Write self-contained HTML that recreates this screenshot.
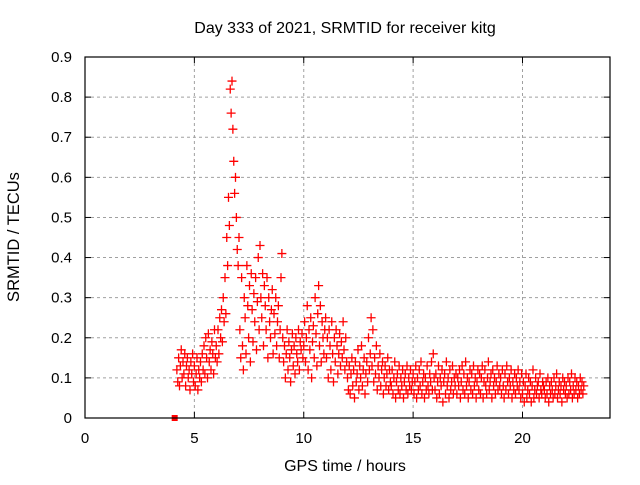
<!DOCTYPE html>
<html><head><meta charset="utf-8"><style>
body{margin:0;background:#fff;}
svg text{font-family:"Liberation Sans",sans-serif;font-size:15px;fill:#000;}
</style></head><body>
<svg id="chart" width="640" height="480" xmlns="http://www.w3.org/2000/svg">
<text x="345" y="33" text-anchor="middle" style="font-size:16px">Day 333 of 2021, SRMTID for receiver kitg</text>
<text x="345" y="471" text-anchor="middle" style="font-size:16px">GPS time / hours</text>
<text transform="translate(19,237) rotate(-90)" text-anchor="middle" style="font-size:16.5px">SRMTID / TECUs</text>
<g id="grid"></g>
<g id="ticks"></g>
<g id="marks"></g>
<rect x="85" y="57" width="525" height="361" fill="none" stroke="#000" stroke-width="1.2"/>
</svg>
<script>
const xTicks=[0,5,10,15,20];
const yTicks=[0,0.1,0.2,0.3,0.4,0.5,0.6,0.7,0.8,0.9];
const yTickLabels=["0","0.1","0.2","0.3","0.4","0.5","0.6","0.7","0.8","0.9"];
const startTime=4.2;
const timeStep=0.04;
const srmtidHundredths=[
12,9,15,8,13,17,10,14,11,16,8,13,15,10,12,7,14,11,16,9,
13,8,11,15,7,12,10,14,9,16,12,18,11,20,15,10,21,14,17,12,19,16,11,22,15,
18,14,22,16,25,20,27,19,30,24,35,26,45,38,55,48,82,76,84,72,64,56,60,50,42,
38,45,22,15,35,18,12,30,25,16,38,28,20,33,14,36,27,19,31,24,35,17,29,40,22,
43,30,25,36,18,33,28,22,35,15,30,24,20,27,32,16,26,21,30,18,24,28,15,22,35,
41,20,14,18,10,16,22,12,19,15,9,17,21,13,18,11,20,16,14,22,12,19,17,21,15,
18,24,14,20,28,12,22,17,25,10,19,23,15,30,21,13,26,33,18,28,14,24,20,16,22,
25,15,20,10,22,18,12,24,16,9,20,14,22,18,11,16,21,13,19,15,24,17,12,20,14,
10,7,13,6,11,15,8,12,5,14,9,11,17,7,13,10,18,8,12,15,6,11,14,9,20,
12,16,25,13,22,9,15,11,18,7,13,10,16,8,12,14,6,10,13,8,11,15,7,12,9,
8,12,6,10,14,5,9,11,7,13,6,10,8,12,5,9,11,7,13,6,10,8,12,7,9,
11,6,9,13,5,10,7,12,8,14,6,9,11,5,10,7,13,8,6,11,9,14,7,16,10,
7,11,5,9,13,6,10,8,12,4,9,11,6,14,8,10,5,12,7,9,13,6,10,8,11,
6,10,8,12,5,9,13,7,11,6,14,8,10,5,9,12,7,11,6,13,8,10,5,9,12,
7,11,6,10,13,5,9,12,8,6,10,14,7,9,11,5,12,8,10,6,9,13,7,11,8,
10,6,12,8,5,11,7,13,9,6,10,8,12,5,9,7,11,6,10,8,12,7,9,5,11,
6,9,4,8,11,5,7,10,6,9,4,8,12,5,7,10,6,8,9,5,11,7,6,9,8,
7,5,9,6,10,4,8,6,9,7,5,10,6,8,11,5,7,9,6,8,4,10,7,9,6,
8,5,10,6,9,7,11,5,8,6,10,7,9,5,8,6,10,7,9,6,8];
const zeroMarkTime=[4.1];
const X0=85,X1=610,Y0=418,Y1=57,XMAX=24,YMAX=0.9;
function xs(v){return X0+(X1-X0)*v/XMAX;}
function ys(v){return Y0-(Y0-Y1)*v/YMAX;}
const NS="http://www.w3.org/2000/svg";
function mk(t,a,p){const e=document.createElementNS(NS,t);for(const k in a)e.setAttribute(k,a[k]);p.appendChild(e);return e;}
const grid=document.getElementById('grid'),ticks=document.getElementById('ticks'),marks=document.getElementById('marks');
xTicks.forEach((v,i)=>{const x=xs(v);
 if(v>0){const g=mk('line',{x1:x,x2:x,y1:Y1,y2:Y0,stroke:'#a0a0a0','stroke-dasharray':'3,3'},grid);
 
 }
 mk('line',{x1:x,x2:x,y1:Y0,y2:Y0-6,stroke:'#000'},ticks);mk('line',{x1:x,x2:x,y1:Y1,y2:Y1+6,stroke:'#000'},ticks);
 const t=mk('text',{x:x,y:443,'text-anchor':'middle'},ticks);t.textContent=v;
 
 });
yTicks.forEach((v,i)=>{const y=ys(v);
 if(v>0&&v<0.9){const g=mk('line',{x1:X0,x2:X1,y1:y,y2:y,stroke:'#a0a0a0','stroke-dasharray':'3,3'},grid);
 
 }
 mk('line',{x1:X0,x2:X0+6,y1:y,y2:y,stroke:'#000'},ticks);mk('line',{x1:X1,x2:X1-6,y1:y,y2:y,stroke:'#000'},ticks);
 const t=mk('text',{x:72,y:y+5,'text-anchor':'end'},ticks);t.textContent=yTickLabels[i];
 
 });
srmtidHundredths.forEach((h,i)=>{const x=xs(startTime+i*timeStep),y=ys(h/100);
 const p=mk('path',{d:`M${x-4.5},${y}h9M${x},${y-4.5}v9`,stroke:'#f00','stroke-width':1.3,fill:'none'},marks);
 
 });
zeroMarkTime.forEach(t=>{const r=mk('rect',{x:xs(t)-3,y:Y0-3,width:6,height:6,fill:'#f00'},marks);
 
 });
</script>
</body></html>
